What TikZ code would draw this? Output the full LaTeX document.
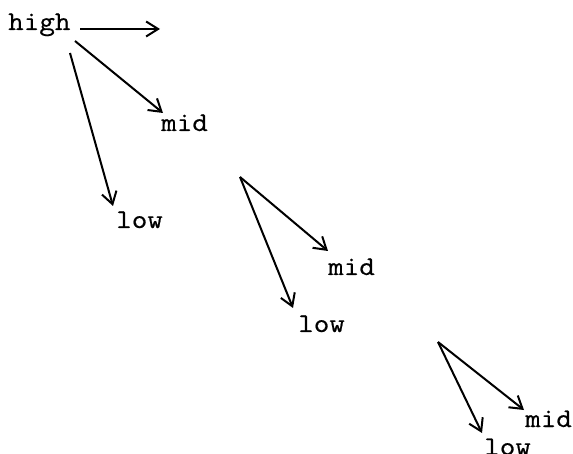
\documentclass[tikz,border=0pt]{standalone}
\usepackage{fontspec}
\setmonofont{Latin Modern Mono}[FakeStretch=1.12,FakeBold=0.5]
\usetikzlibrary{arrows.meta}
\begin{document}
\begin{tikzpicture}[x=1pt,y=-1pt,
  lbl/.style={anchor=base west,inner sep=0pt,font=\ttfamily\fontsize{27}{27}\selectfont},
  arr/.style={-{Straight Barb[length=12pt,width=15pt,line width=2pt]},line width=2pt}]
\useasboundingbox (0,0) rectangle (573,454);
% labels
\node[lbl] (high) at (8,30) {high};
\node[lbl] (mid1) at (161,131) {mid};
\node[lbl] (low1) at (116,228) {low};
\node[lbl] (mid2) at (328,275) {mid};
\node[lbl] (low2) at (298,332) {low};
\node[lbl] (mid3) at (525,427) {mid};
\node[lbl] (low3) at (484,455) {low};
% arrow end points
\coordinate (hA) at (80,29);
\coordinate (hT) at (160,29);
\coordinate (mA) at (75,41);
\coordinate (mT) at (163,113);
\coordinate (lA) at (70,53);
\coordinate (lT) at (113,206);
\coordinate (g2) at (240,177);
\coordinate (m2T) at (328,251);
\coordinate (l2T) at (293,308);
\coordinate (g3) at (438,342);
\coordinate (m3T) at (524,410);
\coordinate (l3T) at (482,433);
% arrows
\draw[arr] (hA) -- (hT);
\draw[arr] (mA) -- (mT);
\draw[arr] (lA) -- (lT);
\draw[arr] (g2) -- (m2T);
\draw[arr] (g2) -- (l2T);
\draw[arr] (g3) -- (m3T);
\draw[arr] (g3) -- (l3T);
\end{tikzpicture}
\end{document}
